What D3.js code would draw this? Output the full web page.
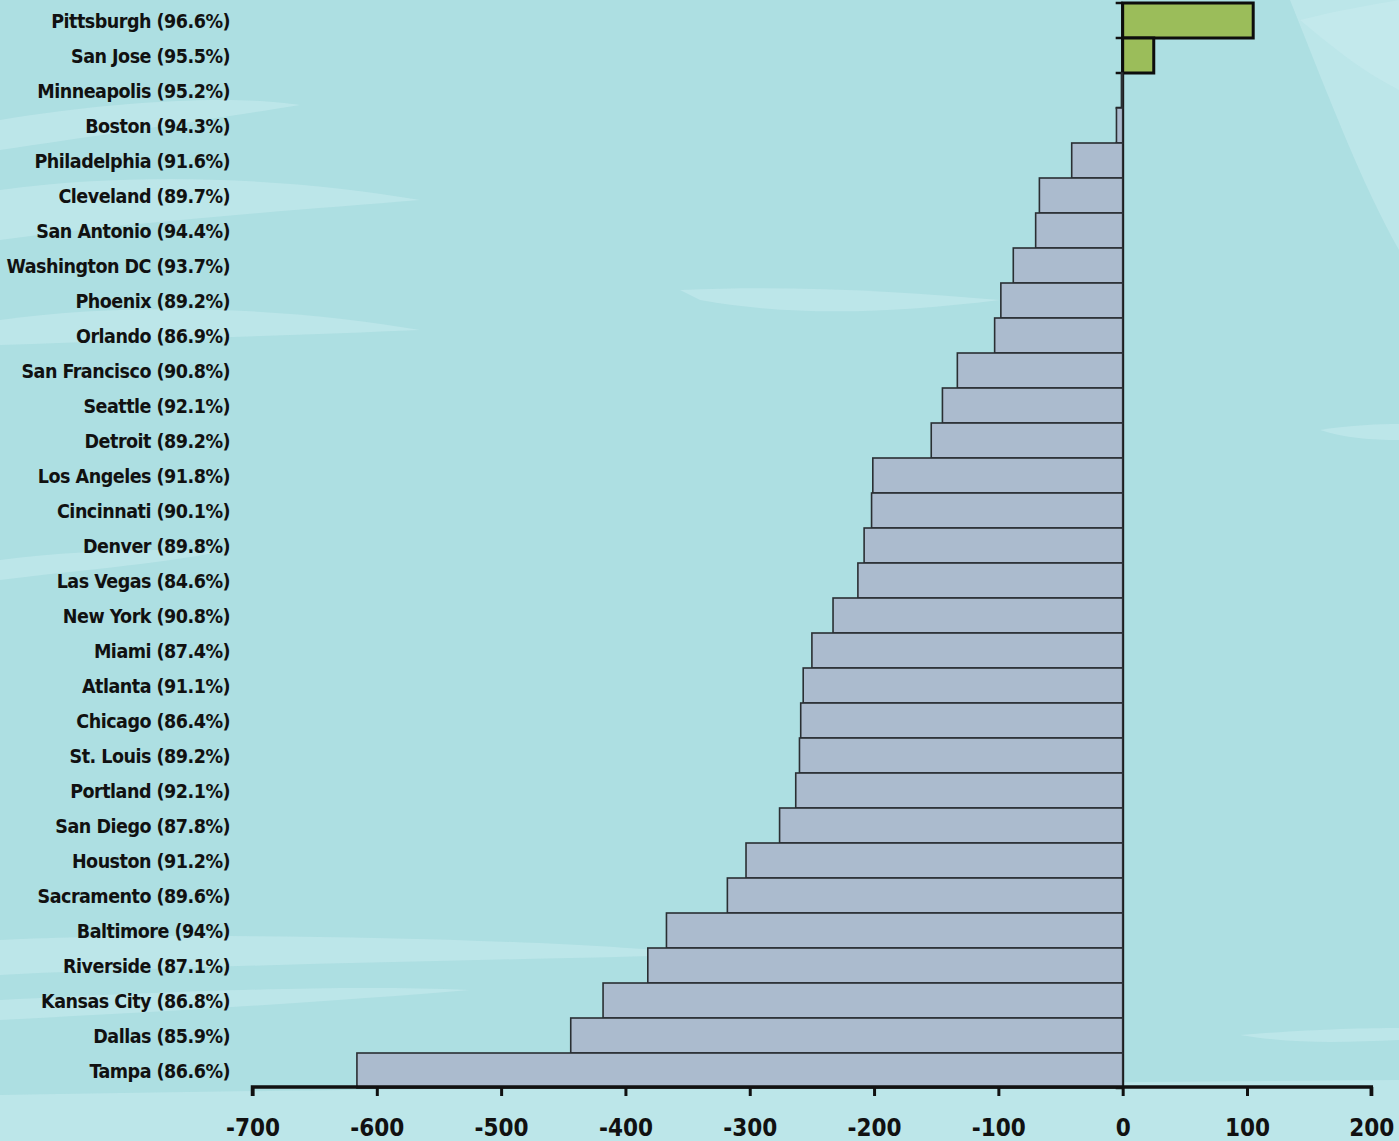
<!DOCTYPE html>
<html>
<head>
<meta charset="utf-8">
<script src="https://cdn.jsdelivr.net/npm/d3@7"></script>
<style>
html,body{margin:0;padding:0;background:#addfe2;}
svg{display:block;}
</style>
</head>
<body>
<svg id="chart" width="1399" height="1141"></svg>
<script>
const cities = ["Pittsburgh (96.6%)","San Jose (95.5%)","Minneapolis (95.2%)","Boston (94.3%)","Philadelphia (91.6%)","Cleveland (89.7%)","San Antonio (94.4%)","Washington DC (93.7%)","Phoenix (89.2%)","Orlando (86.9%)","San Francisco (90.8%)","Seattle (92.1%)","Detroit (89.2%)","Los Angeles (91.8%)","Cincinnati (90.1%)","Denver (89.8%)","Las Vegas (84.6%)","New York (90.8%)","Miami (87.4%)","Atlanta (91.1%)","Chicago (86.4%)","St. Louis (89.2%)","Portland (92.1%)","San Diego (87.8%)","Houston (91.2%)","Sacramento (89.6%)","Baltimore (94%)","Riverside (87.1%)","Kansas City (86.8%)","Dallas (85.9%)","Tampa (86.6%)"];
const values = [105,25,-1,-5,-41,-67,-70,-88,-98,-103,-133,-145,-154,-201,-202,-208,-213,-233,-250,-257,-259,-260,-263,-276,-303,-318,-367,-382,-418,-444,-616];
const xTicks = [-700,-600,-500,-400,-300,-200,-100,0,100,200];

const svg = d3.select("#chart");
const W = 1399, H = 1141;

// background
const bg = svg.append("g");
bg.append("rect").attr("width",W).attr("height",H).attr("fill","#addfe2");
const streaks = [
  "M0,120 C120,100 240,95 300,105 C220,118 100,135 0,150 Z",
  "M0,190 C150,170 300,180 420,200 C300,210 150,220 0,240 Z",
  "M0,320 C150,300 300,310 420,330 C300,335 150,340 0,345 Z",
  "M680,290 C800,285 900,292 1000,300 C900,312 800,318 700,300 Z",
  "M1290,0 L1399,0 L1399,250 C1360,180 1330,100 1290,0 Z",
  "M1300,20 C1340,10 1370,5 1399,0 L1399,90 C1360,70 1330,45 1300,20 Z",
  "M0,940 C200,930 600,940 700,955 C500,960 200,965 0,975 Z",
  "M0,1000 C200,990 350,985 470,990 C350,1000 200,1010 0,1020 Z",
  "M1240,1035 C1300,1030 1360,1028 1399,1028 L1399,1040 C1350,1042 1300,1045 1240,1035 Z",
  "M0,1095 C300,1090 700,1085 1399,1080 L1399,1141 L0,1141 Z",
  "M0,560 C80,550 160,548 220,552 C150,565 80,570 0,580 Z",
  "M1320,430 C1350,425 1380,424 1399,424 L1399,440 C1370,440 1345,438 1320,430 Z"
];
bg.selectAll("path").data(streaks).join("path")
  .attr("d", d=>d).attr("fill","#c9ebee").attr("opacity",0.55);

const x = d3.scaleLinear().domain([-700,200]).range([252.5,1371.3]);
const y = d3.scaleBand().domain(cities).range([3,1088]).padding(0);

const g = svg.append("g");

// y axis ticks (left of zero line)
g.selectAll("line.ytick").data(d3.range(cities.length+1)).join("line")
  .attr("class","ytick")
  .attr("x1", x(0)-7).attr("x2", x(0))
  .attr("y1", i=> 3 + i*y.bandwidth()).attr("y2", i=> 3 + i*y.bandwidth())
  .attr("stroke","#111").attr("stroke-width",2.5);

// zero line
g.append("line").attr("x1",x(0)).attr("x2",x(0)).attr("y1",3).attr("y2",1088)
  .attr("stroke","#111").attr("stroke-width",3);

// bars
const data = cities.map((c,i)=>({c, v: values[i]}));
g.selectAll("rect.bar").data(data).join("rect")
  .attr("class","bar")
  .attr("x", d=> x(Math.min(0,d.v)))
  .attr("width", d=> Math.abs(x(d.v)-x(0)))
  .attr("y", d=> y(d.c))
  .attr("height", y.bandwidth())
  .attr("fill", d=> d.v>0 ? "#9bbd5a" : "#abbbce")
  .attr("stroke", d=> d.v>0 ? "#0d0d0d" : "#2a2f33")
  .attr("stroke-width", d=> d.v>0 ? 3 : 1.6);

// category labels
g.selectAll("text.cat").data(cities).join("text")
  .attr("class","cat")
  .attr("x", 230)
  .attr("y", d=> y(d) + y.bandwidth()/2 + 7)
  .attr("text-anchor","end")
  .attr("font-family","'DejaVu Sans Condensed','DejaVu Sans',sans-serif")
  .attr("font-weight","bold")
  .attr("font-size","19.5px")
  .attr("letter-spacing","-0.5")
  .attr("fill","#111")
  .text(d=>d);

// x axis
const xAxis = d3.axisBottom(x).tickValues(xTicks).tickSize(9).tickPadding(23).tickFormat(d3.format("d"));
const ax = svg.append("g").attr("transform","translate(0,1087)").call(xAxis);
ax.select(".domain").attr("stroke","#111").attr("stroke-width",3.5)
  .attr("d", `M${x(-700)},9V0H${x(200)}V9`);
ax.selectAll(".tick line").attr("stroke","#111").attr("stroke-width",3);
ax.selectAll(".tick text")
  .attr("font-family","'DejaVu Sans Condensed','DejaVu Sans',sans-serif")
  .attr("font-weight","bold").attr("font-size","24px").attr("fill","#111")
  .text(d=> d<0 ? "-" + Math.abs(d) : d);
</script>
</body>
</html>
